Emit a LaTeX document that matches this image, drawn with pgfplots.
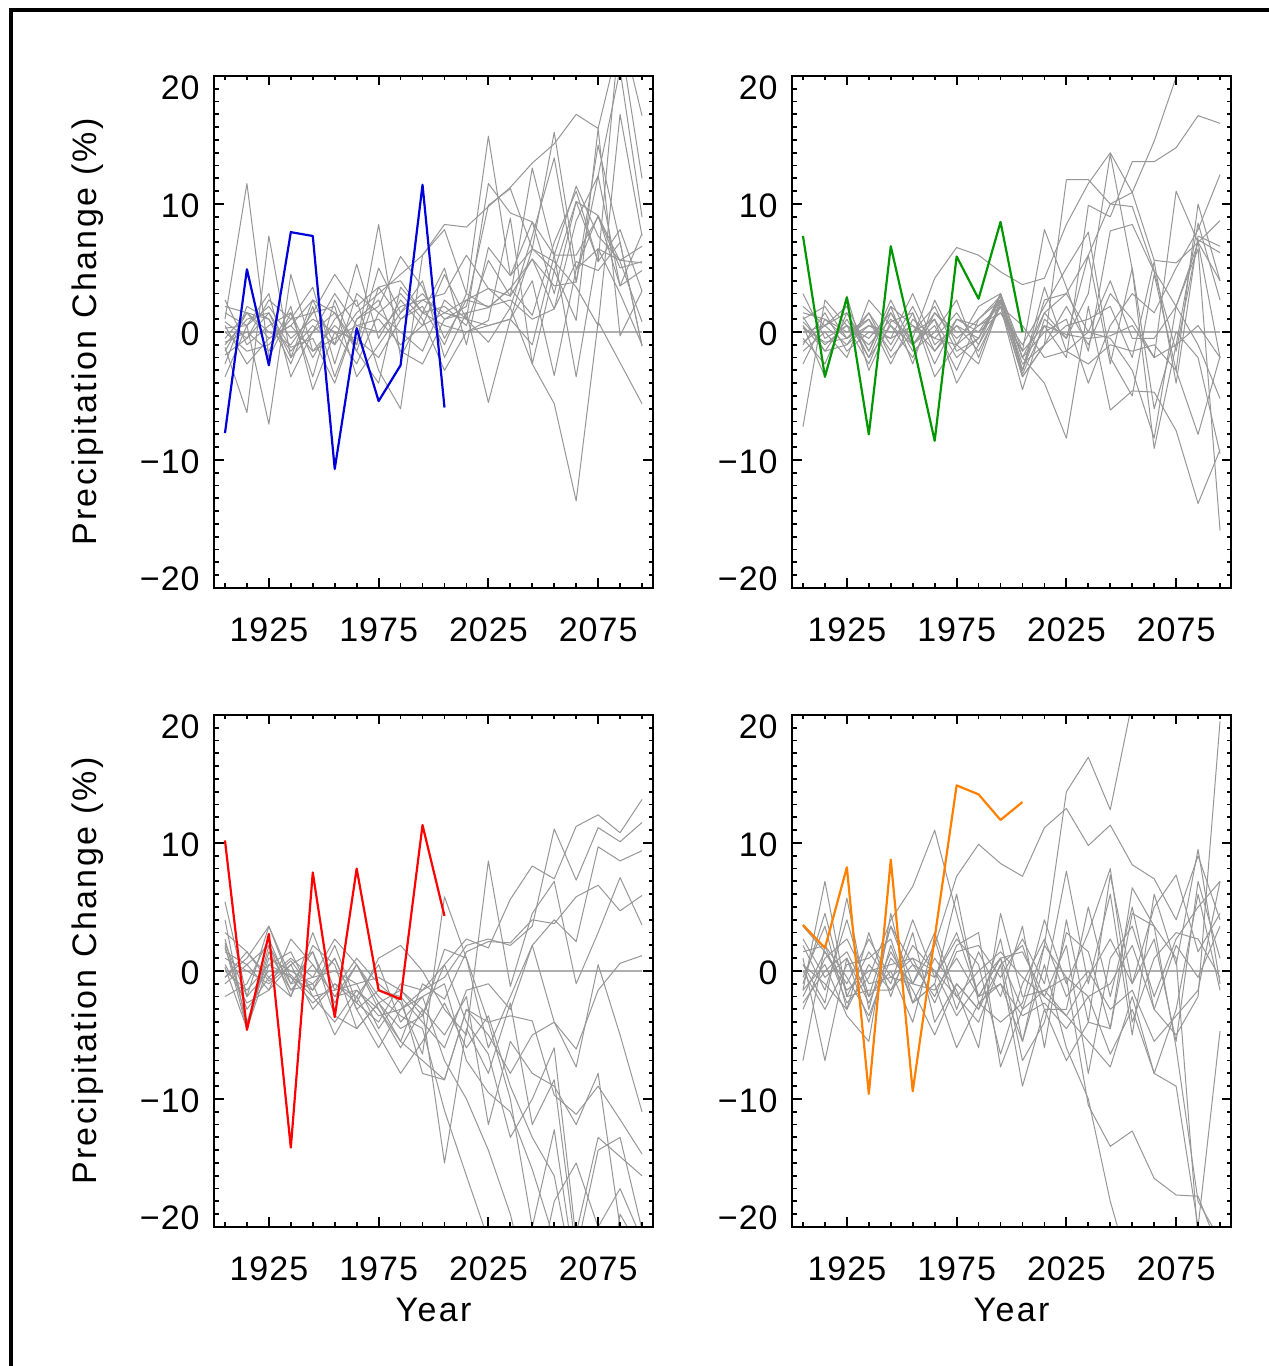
\documentclass[border=0pt]{standalone}
\usepackage{fontspec}
\setmainfont{Liberation Sans}
\usepackage{pgfplots}
\pgfplotsset{compat=1.18}
\usepackage{pgfplotstable}

\definecolor{gline}{RGB}{150,150,150}
\definecolor{zline}{RGB}{175,175,175}
\definecolor{obsblue}{RGB}{0,0,215}
\definecolor{obsgreen}{RGB}{0,150,0}
\definecolor{obsred}{RGB}{255,0,0}
\definecolor{obsorange}{RGB}{255,128,0}

\pgfplotstableread{
name 1905 1915 1925 1935 1945 1955 1965 1975 1985 1995 2005 2015 2025 2035 2045 2055 2065 2075 2085 2095
s1 -0.5 1.5 1.0 -1.5 0.5 -1.0 1.5 3.0 4.5 6.0 8.4 8.2 9.8 11.3 13.2 14.7 17.0 15.9 23.0 12.0
s2 1.0 11.6 -2.0 1.5 -3.5 2.5 -1.5 3.5 1.0 2.0 -1.0 3.0 15.3 4.4 6.5 15.6 4.9 9.1 3.6 7.7
s3 -1.2 -6.3 7.5 -2.0 2.5 -1.0 5.3 -0.5 2.5 0.5 4.5 1.0 11.6 9.3 8.6 3.0 10.2 5.5 24.0 16.9
s4 0.3 0.5 -7.2 4.5 -1.5 0.5 -1.0 8.4 -2.0 1.5 2.0 0.5 5.6 2.8 12.8 6.0 11.4 7.5 5.6 5.4
s5 -2.5 2.0 1.0 -2.5 2.0 -3.5 1.0 2.0 5.9 3.5 -0.5 2.5 3.4 1.9 7.5 13.6 3.9 14.6 7.0 -1.1
s6 2.5 -1.0 0.5 1.5 -2.0 1.0 2.5 -3.0 -6.0 6.0 8.0 3.0 1.9 3.4 5.7 1.8 8.7 12.2 3.6 4.8
s7 -3.5 0.5 2.0 -0.5 1.0 0.0 -2.5 1.5 3.0 1.0 -3.0 0.0 0.9 8.9 -2.5 4.8 0.9 15.9 -0.3 3.2
s8 0.0 -1.5 -1.0 1.0 3.5 -2.5 3.0 1.5 0.0 -1.5 2.5 1.0 0.5 1.0 4.0 -3.4 4.9 6.5 5.6 6.7
s9 1.5 0.5 3.0 -3.5 0.0 1.5 -1.0 5.0 1.5 3.0 1.0 2.0 9.9 11.2 6.5 4.8 10.2 9.1 5.5 0.8
s10 -1.5 1.5 -0.5 0.5 -1.5 -0.5 0.5 0.0 2.0 2.5 1.5 1.0 -0.8 1.9 -2.5 -5.6 -13.2 0.8 -2.4 -5.6
s11 0.8 -0.5 2.5 1.0 1.5 4.5 2.0 3.5 4.0 1.5 5.0 -1.0 6.6 4.4 8.6 6.0 6.0 9.0 5.0 5.5
s12 -0.8 0.0 -1.5 2.0 -4.5 0.0 -0.5 -2.0 1.0 2.5 3.0 6.0 3.4 2.8 5.7 3.6 3.9 12.2 20.5 9.0
s13 2.0 1.5 0.0 -1.0 1.5 2.0 -3.5 -1.0 1.5 4.0 -2.0 1.5 -5.5 1.0 -1.0 6.0 -3.5 6.5 3.0 -1.0
s14 -1.8 -0.5 1.5 -1.2 -0.5 -4.0 1.0 2.5 -1.5 -2.5 1.0 1.5 1.9 3.4 1.3 7.0 11.0 5.5 8.0 3.2
s15 0.5 -2.5 -0.5 0.5 2.5 1.5 -1.5 -4.0 3.5 1.5 0.5 0.0 0.5 1.0 6.5 5.5 3.5 0.5 17.0 7.5
s16 -1.0 1.0 1.5 -2.0 0.0 3.0 0.5 1.0 -1.0 0.5 1.5 2.5 2.0 2.5 1.0 1.8 5.5 4.8 7.0 -1.1
}\rawA

\pgfplotstableread{
name 1905 1915 1925 1935 1945 1955 1965 1975 1985 1995 2005 2015 2025 2035 2045 2055 2065 2075 2085 2095
s1 0.5 -1.5 1.0 -2.0 2.0 0.5 -1.5 1.0 0.0 2.5 -3.0 1.5 3.0 6.0 10.0 10.9 14.9 19.9 25.0 28.0
s2 1.5 1.0 -0.5 1.5 -1.0 2.0 -1.5 0.5 -0.5 2.8 -3.3 0.5 -2.0 9.9 9.0 13.3 13.3 14.4 16.9 16.3
s3 -7.4 2.5 0.5 -1.0 1.0 -0.5 4.2 6.6 6.0 4.7 3.7 4.2 8.4 11.6 14.0 10.9 5.6 5.4 7.0 -2.0
s4 0.5 -3.5 2.8 -3.0 0.8 1.5 -3.5 -1.0 -2.5 2.3 -3.5 -1.0 11.9 11.9 10.0 9.8 4.8 2.0 -1.0 -5.2
s5 2.0 0.5 -1.0 1.5 -2.0 0.0 2.0 -1.5 -0.5 3.0 -1.5 8.0 3.5 -1.5 7.9 8.4 4.7 -1.5 7.2 6.2
s6 -0.5 -2.5 1.5 -1.5 2.5 -1.0 0.5 -3.0 1.0 2.5 -2.0 -4.0 -8.3 2.0 -6.1 -4.6 -4.7 -7.7 -13.4 -9.2
s7 1.0 2.0 -0.5 0.5 -0.5 3.0 -1.0 0.5 -1.5 2.0 -4.5 1.0 -0.5 3.0 13.9 4.9 -9.1 -1.0 8.5 2.5
s8 -1.5 0.0 -2.0 2.5 0.5 -2.0 1.5 -0.5 1.0 2.8 -3.0 3.5 -1.5 0.0 -0.5 -3.0 -8.3 2.0 6.5 -15.5
s9 0.8 -1.0 0.5 -0.5 1.5 -1.5 0.0 2.5 -2.0 2.5 -2.5 -1.0 2.0 -1.0 3.0 1.0 -2.0 11.0 7.0 8.7
s10 -1.0 1.5 -1.5 0.0 -0.5 0.5 -0.5 -1.0 0.5 1.5 -1.0 2.0 5.0 7.8 -2.0 -5.0 4.5 -3.0 10.0 4.0
s11 3.0 -0.5 0.5 -2.5 1.5 -1.0 1.0 -4.0 -1.0 2.0 0.5 -2.0 -1.5 -2.5 -1.0 -1.5 -1.0 -3.0 -8.0 -1.9
s12 0.0 0.5 2.0 -1.5 2.0 -2.5 2.5 -1.0 2.0 3.0 -2.0 0.0 1.0 -4.0 0.5 3.0 1.5 5.0 8.0 12.3
s13 -2.5 1.0 0.0 1.0 -1.5 1.5 -2.5 1.0 0.5 2.0 -3.5 -1.0 0.5 1.0 2.0 -2.0 5.5 -4.0 7.5 6.7
s14 1.2 -1.5 -1.0 0.5 0.0 0.0 1.0 -2.0 -0.5 2.5 -2.0 1.5 -0.5 6.0 -2.5 5.0 -6.0 0.0 -2.0 -9.5
s15 -0.8 0.5 1.5 -2.0 0.5 -1.0 1.5 0.0 0.0 1.5 -1.5 0.5 -0.2 -0.5 -0.3 0.5 -2.0 -1.0 0.5 -2.0
s16 0.3 -0.8 -0.5 1.0 -2.5 1.0 -0.5 1.5 -1.0 3.0 -3.0 2.5 3.0 0.0 4.0 -0.5 -0.5 2.0 7.0 4.0
}\rawB

\pgfplotstableread{
name 1905 1915 1925 1935 1945 1955 1965 1975 1985 1995 2005 2015 2025 2035 2045 2055 2065 2075 2085 2095
s1 4.0 -4.6 2.0 -1.0 1.5 -2.5 0.5 -3.0 -5.5 -1.0 -2.2 1.5 2.3 2.2 4.0 3.7 5.8 6.7 4.7 5.9
s2 5.4 -2.0 3.5 -0.5 -1.5 2.0 -2.5 -4.0 -1.0 -1.5 0.5 2.5 1.8 5.6 8.2 7.2 11.3 12.2 10.8 13.4
s3 2.0 -4.5 0.5 1.5 -2.0 -4.0 -1.5 -3.5 -3.0 -1.5 -0.5 2.0 2.5 2.0 3.5 11.1 7.1 11.2 10.1 11.6
s4 -2.0 -1.0 2.5 -1.5 -1.0 1.0 -3.0 -1.5 -2.0 -4.0 -6.0 -1.5 -1.0 -3.0 2.0 4.0 2.3 9.7 8.6 9.4
s5 0.5 -2.5 -1.5 0.5 -3.0 -1.0 -2.5 1.0 2.0 0.0 -3.0 -5.0 8.6 -1.2 4.5 7.0 -1.0 3.0 7.3 3.6
s6 1.0 0.0 -1.0 0.5 1.5 -3.5 -4.5 -2.5 -5.5 -7.0 -8.5 -3.0 -4.0 -3.5 -3.9 -9.7 -11.2 -9.0 -11.6 -14.3
s7 3.0 1.5 -0.5 -2.0 2.0 0.5 -4.5 -2.5 -1.5 -3.5 1.7 1.0 -6.0 -2.0 2.0 -4.0 -6.1 -1.5 0.6 1.2
s8 -0.5 1.0 3.5 -1.0 -0.5 2.5 0.5 -2.0 -3.5 -4.5 -10.9 -16.0 -21.0 -25.0 -23.0 -20.0 -24.0 -21.0 -26.0 -24.0
s9 1.5 0.5 -1.5 2.5 0.5 -2.0 -1.5 -3.0 -6.0 -3.0 -15.0 -4.5 -8.0 -2.5 -12.0 -8.5 -22.0 -14.0 -13.0 -20.2
s10 0.0 -1.5 0.5 -0.5 -2.5 -1.0 -2.0 -5.0 -8.0 -5.5 -2.5 -6.0 -3.5 -9.0 -13.0 -16.0 -25.0 -24.0 -22.0 -25.0
s11 2.5 -4.0 1.0 0.0 -1.0 -5.0 -2.0 0.5 -4.0 -2.0 -7.0 -10.0 -14.0 -19.0 -26.0 -18.0 -15.0 -20.0 -17.0 -21.0
s12 -1.0 0.5 2.0 -2.0 3.0 -1.5 1.0 -1.0 -2.5 -6.5 5.8 1.0 -4.0 -10.0 -20.0 -12.4 -24.0 -30.0 -19.0 -22.0
s13 1.8 -3.0 -0.5 1.0 -0.5 0.0 -1.0 -4.5 -2.0 -8.0 -8.5 -3.0 -5.0 -8.0 -5.0 -4.0 -7.5 0.5 -5.0 -11.0
s14 0.3 -4.5 1.5 -1.5 0.5 -2.0 0.5 -2.5 -4.5 -3.5 0.5 -4.0 -6.5 -13.0 -10.0 -6.0 -21.0 -20.0 -24.0 -29.0
s15 -0.5 1.5 -0.8 0.8 -1.5 1.0 -3.0 -6.0 -3.0 -2.0 -1.0 -7.0 -9.5 -11.0 -15.5 -21.0 -20.5 -13.0 -14.5 -16.0
s16 2.2 -2.0 0.0 -0.3 -2.0 -1.5 -1.0 -0.5 -1.5 -3.0 -5.0 -2.0 -12.0 -5.5 -8.0 -9.0 -12.0 -8.0 -20.0 -26.0
}\rawC

\pgfplotstableread{
name 1905 1915 1925 1935 1945 1955 1965 1975 1985 1995 2005 2015 2025 2035 2045 2055 2065 2075 2085 2095
s1 -1.5 7.0 -2.0 1.5 -1.0 4.0 -0.5 3.0 -2.0 1.0 -3.0 2.0 14.0 16.7 12.6 21.0 25.0 22.0 24.0 26.0
s2 0.5 -2.5 5.7 -3.0 3.5 -1.0 2.0 7.4 9.9 8.4 7.4 11.2 12.7 9.8 11.4 8.3 7.2 4.0 9.0 4.0
s3 3.5 1.5 -1.0 2.5 -0.5 1.0 -2.5 1.5 2.0 -0.5 2.5 -1.0 7.8 -1.0 6.0 -5.0 6.0 0.5 9.5 -1.0
s4 -7.0 2.0 -2.5 -0.5 4.0 6.6 11.0 4.5 -2.0 1.0 1.5 -2.0 2.0 -8.0 1.0 3.5 -2.0 2.5 5.0 7.0
s5 1.0 -7.0 1.0 -4.0 2.0 -2.5 -1.0 6.0 -2.5 -1.0 -5.5 2.0 -0.5 -2.0 -6.5 -3.0 -8.0 -3.0 6.0 -1.5
s6 -1.5 0.5 -3.5 -5.5 4.5 -2.5 1.0 -1.5 -6.0 4.5 -2.0 -1.5 -0.5 -10.5 -13.7 -12.5 -16.2 -17.5 -17.6 -22.0
s7 2.0 -1.5 4.0 -2.0 0.0 -4.0 2.5 -3.0 1.5 -2.0 3.5 -6.0 4.0 -4.0 7.5 -1.0 2.5 -5.5 7.0 1.0
s8 -0.5 3.5 -3.0 3.0 -2.0 3.0 -4.0 -1.0 -3.0 2.5 -5.5 0.5 -6.0 -10.0 -18.0 -24.0 -25.0 -23.0 -26.0 -28.0
s9 -2.5 0.0 1.5 -2.0 3.5 0.5 -2.0 2.0 3.0 -7.5 -3.0 -1.5 -3.5 -5.5 -7.5 -2.0 -8.0 -9.0 -20.0 -4.7
s10 0.5 -1.0 -3.0 0.5 -1.5 2.0 0.0 -3.5 -1.0 1.0 -7.0 -4.0 3.0 1.5 -4.5 4.5 3.5 1.0 -21.0 -25.0
s11 1.5 2.0 -0.5 -3.5 1.0 -1.0 3.0 -2.0 -4.0 0.5 2.0 -3.0 -3.0 5.0 -2.0 5.0 -3.0 -5.0 -2.0 19.5
s12 -3.0 1.0 2.5 -1.0 -0.5 -1.0 -1.5 1.0 -2.0 -1.0 -3.5 -2.5 -4.5 -2.0 -1.0 2.0 -3.0 2.0 -0.5 3.5
s13 0.0 -3.0 0.5 1.0 2.5 -2.5 -1.0 -6.0 -2.5 -4.0 -2.5 4.0 -1.0 3.0 8.0 -4.0 1.0 3.0 2.5 -0.5
s14 -1.0 4.5 -2.0 -1.5 -1.5 0.5 -0.5 2.5 0.5 -6.5 -1.0 2.5 -2.0 0.0 -3.0 -1.5 -5.5 -3.5 -1.5 7.0
s15 2.5 -0.5 1.0 -2.5 1.5 -1.5 -5.0 -1.0 -3.0 0.5 -9.0 -3.0 -7.0 -4.0 -4.5 6.5 3.5 -6.0 -18.0 -21.0
s16 -2.0 1.5 -1.5 0.0 0.5 1.0 0.0 -2.0 0.0 1.5 -0.5 -2.0 -3.5 -0.5 2.5 -1.0 5.0 7.5 1.5 4.5
}\rawD

\pgfplotstabletranspose[colnames from=name]{\tabA}{\rawA}
\pgfplotstabletranspose[colnames from=name]{\tabB}{\rawB}
\pgfplotstabletranspose[colnames from=name]{\tabC}{\rawC}
\pgfplotstabletranspose[colnames from=name]{\tabD}{\rawD}

\newcommand{\lblfont}{\fontsize{17}{17}\selectfont\addfontfeature{LetterSpace=3}}

\pgfplotsset{
  panel/.style={
    scale only axis, width=219.5pt, height=256pt,
    xmin=1900, xmax=2100, ymin=-20, ymax=20,
    xtick={1925,1975,2025,2075},
    xticklabels={1925,1975,2025,2075},
    minor xtick={1905,1915,...,2095},
    ytick={-20,-10,0,10,20},
    yticklabels={\raisebox{-1.25pt}{−20},\raisebox{-6.75pt}{−10},\raisebox{-6.75pt}{0},\raisebox{-6.75pt}{10},\raisebox{-12pt}{20}},
    minor ytick={-19,-18,...,19},
    tick align=inside,
    major tick length=4.75pt, minor tick length=2.25pt,
    every tick/.style={black, line width=0.9pt},
    axis line style={line width=1pt},
    tick label style={font=\lblfont},
    xticklabel style={inner sep=0pt, anchor=north, yshift=-14.5pt},
    yticklabel style={inner sep=0pt, anchor=base east, xshift=-7pt},
    label style={font=\fontsize{17}{17}\selectfont\addfontfeature{LetterSpace=7}},
    ylabel style={at={(axis description cs:-0.287,0.5)}, anchor=center},
    xlabel style={at={(axis description cs:0.5,-0.162)}, anchor=center},
    axis on top,
  },
  gl/.style={gline, line width=0.5pt, line join=round},
  zl/.style={zline, line width=0.6pt},
  obs/.style={line width=1.1pt, line join=round},
}

\begin{document}
\begin{tikzpicture}
\useasboundingbox (0,0) rectangle (634.5pt,683pt);

% top-left
\begin{axis}[panel, at={(107pt,645pt)}, anchor=north west,
  ylabel={Precipitation Change (\%)}]
\addplot[zl] coordinates {(1905,0) (2095,0)};
\pgfplotsinvokeforeach{1,...,16}{\addplot[gl] table[x=colnames, y=s#1] {\tabA};}
\addplot[obs, obsblue] coordinates {(1905,-7.9) (1915,4.9) (1925,-2.6) (1935,7.8) (1945,7.5) (1955,-10.7) (1965,0.3) (1975,-5.4) (1985,-2.6) (1995,11.5) (2005,-5.9)};
\end{axis}

% top-right
\begin{axis}[panel, at={(396pt,645pt)}, anchor=north west]
\addplot[zl] coordinates {(1905,0) (2095,0)};
\pgfplotsinvokeforeach{1,...,16}{\addplot[gl] table[x=colnames, y=s#1] {\tabB};}
\addplot[obs, obsgreen] coordinates {(1905,7.5) (1915,-3.5) (1925,2.7) (1935,-8.0) (1945,6.7) (1955,-0.8) (1965,-8.5) (1975,5.9) (1985,2.6) (1995,8.6) (2005,0.0)};
\end{axis}

% bottom-left
\begin{axis}[panel, at={(107pt,325.5pt)}, anchor=north west,
  ylabel={Precipitation Change (\%)}, xlabel={Year}]
\addplot[zl] coordinates {(1905,0) (2095,0)};
\pgfplotsinvokeforeach{1,...,16}{\addplot[gl] table[x=colnames, y=s#1] {\tabC};}
\addplot[obs, obsred] coordinates {(1905,10.2) (1915,-4.6) (1925,2.9) (1935,-13.8) (1945,7.7) (1955,-3.6) (1965,8.0) (1975,-1.5) (1985,-2.2) (1995,11.4) (2005,4.3)};
\end{axis}

% bottom-right
\begin{axis}[panel, at={(396pt,325.5pt)}, anchor=north west, xlabel={Year}]
\addplot[zl] coordinates {(1905,0) (2095,0)};
\pgfplotsinvokeforeach{1,...,16}{\addplot[gl] table[x=colnames, y=s#1] {\tabD};}
\addplot[obs, obsorange] coordinates {(1905,3.6) (1915,1.8) (1925,8.1) (1935,-9.6) (1945,8.7) (1955,-9.4) (1965,2.6) (1975,14.5) (1985,13.8) (1995,11.8) (2005,13.2)};
\end{axis}

% outer frame (partly outside the page)
\draw[line width=2pt] (5.5pt,-30pt) -- (5.5pt,678pt) -- (700pt,678pt);
\end{tikzpicture}
\end{document}
